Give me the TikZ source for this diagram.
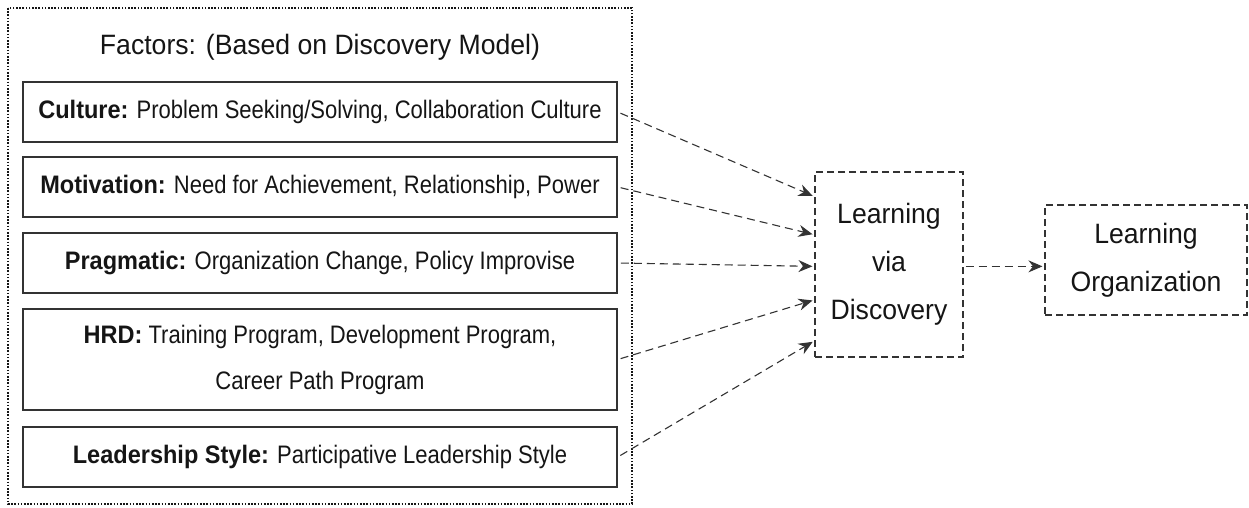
\documentclass[tikz,border=0pt]{standalone}
\usepackage{fontspec}
\setmainfont{Liberation Sans}[FakeStretch=0.87,BoldFeatures={FakeStretch=0.93}]
\newfontfamily\headfont{Liberation Sans}[FakeStretch=0.95]
\usetikzlibrary{arrows.meta,calc}
\definecolor{ink}{HTML}{151515}
\definecolor{edge}{HTML}{333333}
\begin{document}
\begin{tikzpicture}[x=1pt,y=-1pt,
  factor/.style={draw=edge,line width=1.5pt,minimum width=594pt,inner sep=0pt,
    align=center,text=ink,font=\fontsize{25.3}{46}\selectfont},
  stage/.style={draw=edge,line width=1.1pt,dash pattern=on 7pt off 4pt,inner sep=0pt,
    align=center,text=ink,font=\headfont\fontsize{28}{48}\selectfont},
  link/.style={draw=edge,line width=1.1pt,dash pattern=on 8pt off 5pt,
    -{Stealth[length=14pt,width=12pt]}}]
\useasboundingbox (0,0) rectangle (1249,507);

% group frame and its heading
\draw[ink,line width=1.2pt,dash pattern=on 1.6pt off 1.6pt] (8,8) rectangle (632,504);
\node[text=ink,font=\headfont\fontsize{28}{32}\selectfont] (title) at (320,47)
  {Factors: (Based on Discovery Model)};

% factor boxes
\node[factor,minimum height=60pt] (cul) at (320,112)
  {\textbf{Culture:} Problem Seeking/Solving, Collaboration Culture};
\node[factor,minimum height=60pt] (mot) at (320,187)
  {\textbf{Motivation:} Need for Achievement, Relationship, Power};
\node[factor,minimum height=60pt] (pra) at (320,263)
  {\textbf{Pragmatic:} Organization Change, Policy Improvise};
\node[factor,minimum height=101pt] (hrd) at (320,359.5)
  {\textbf{HRD:} Training Program, Development Program,\\Career Path Program};
\node[factor,minimum height=60pt] (lea) at (320,457)
  {\textbf{Leadership Style:} Participative Leadership Style};

% stages
\node[stage,minimum width=148pt,minimum height=185pt] (lvd) at (889,264.5)
  {Learning\\via\\Discovery};
\node[stage,minimum width=202pt,minimum height=110pt] (lo) at (1146,260)
  {Learning\\Organization};

% entry points on the left side of the discovery stage
\coordinate (e1) at ($(lvd.north west)!0.135!(lvd.south west)$);
\coordinate (e2) at ($(lvd.north west)!0.34!(lvd.south west)$);
\coordinate (e3) at ($(lvd.north west)!0.51!(lvd.south west)$);
\coordinate (e4) at ($(lvd.north west)!0.69!(lvd.south west)$);
\coordinate (e5) at ($(lvd.north west)!0.91!(lvd.south west)$);

\draw[link,shorten <=3pt,shorten >=2pt] (cul.east) -- (e1);
\draw[link,shorten <=3pt,shorten >=2pt] (mot.east) -- (e2);
\draw[link,shorten <=3pt,shorten >=2pt] (pra.east) -- (e3);
\draw[link,shorten <=3pt,shorten >=2pt] (hrd.east) -- (e4);
\draw[link,shorten <=3pt,shorten >=2pt] (lea.east) -- (e5);
\draw[link,shorten <=2pt,shorten >=2pt] (e3 -| lvd.east) -- (e3 -| lo.west);
\end{tikzpicture}
\end{document}
